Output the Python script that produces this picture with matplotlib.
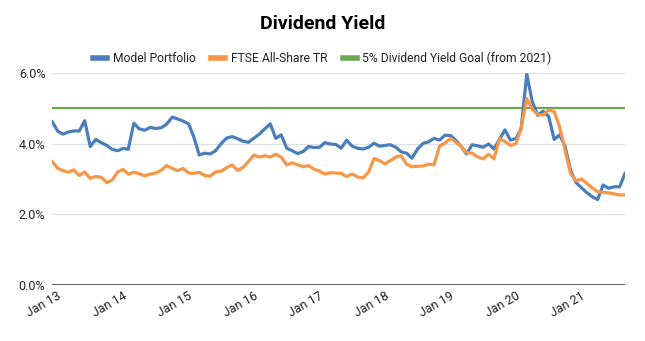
import matplotlib
matplotlib.use("Agg")
import matplotlib.pyplot as plt
import matplotlib.dates as mdates
import matplotlib.transforms as mtransforms
from matplotlib.lines import Line2D
from matplotlib.ticker import FuncFormatter
import numpy as np
import pandas as pd

plt.rcParams['font.family'] = ['Roboto', 'DejaVu Sans']

# monthly dividend yield (%), Jan 2013 - Oct 2021
months = pd.date_range("2013-01-01", periods=106, freq="MS")

model_portfolio = [
    4.62, 4.35, 4.27, 4.33, 4.36, 4.36, 4.65, 3.92, 4.12, 4.03,
    3.95, 3.84, 3.80, 3.87, 3.84, 4.58, 4.42, 4.38, 4.46, 4.43,
    4.45, 4.55, 4.75, 4.70, 4.64, 4.56, 4.20, 3.68, 3.73, 3.71,
    3.80, 4.00, 4.16, 4.20, 4.14, 4.07, 4.04, 4.16, 4.27, 4.42,
    4.56, 4.15, 4.25, 3.87, 3.80, 3.72, 3.78, 3.92, 3.89, 3.90,
    4.03, 3.99, 3.98, 3.87, 4.10, 3.93, 3.87, 3.85, 3.90, 4.01,
    3.93, 3.95, 3.97, 3.90, 3.77, 3.73, 3.59, 3.85, 4.01, 4.05,
    4.15, 4.10, 4.24, 4.23, 4.10, 3.92, 3.71, 3.97, 3.94, 3.90,
    3.99, 3.85, 4.12, 4.39, 4.10, 4.15, 4.43, 5.97, 5.20, 4.80,
    4.92, 4.77, 4.12, 4.25, 3.92, 3.25, 2.90, 2.75, 2.62, 2.50,
    2.42, 2.83, 2.74, 2.78, 2.78, 3.16,
]

ftse_all_share = [
    3.49, 3.30, 3.24, 3.19, 3.26, 3.10, 3.20, 3.02, 3.07, 3.05,
    2.90, 2.97, 3.20, 3.27, 3.14, 3.19, 3.15, 3.09, 3.14, 3.17,
    3.25, 3.38, 3.30, 3.24, 3.30, 3.17, 3.16, 3.19, 3.10, 3.08,
    3.20, 3.22, 3.32, 3.40, 3.24, 3.33, 3.50, 3.68, 3.62, 3.66,
    3.62, 3.70, 3.62, 3.40, 3.46, 3.40, 3.35, 3.38, 3.28, 3.22,
    3.14, 3.18, 3.17, 3.16, 3.07, 3.14, 3.06, 3.03, 3.20, 3.58,
    3.52, 3.43, 3.52, 3.62, 3.66, 3.42, 3.35, 3.36, 3.37, 3.42,
    3.40, 3.93, 4.02, 4.15, 4.05, 3.92, 3.75, 3.73, 3.63, 3.57,
    3.70, 3.57, 4.15, 4.06, 3.95, 4.00, 4.45, 5.28, 4.98, 4.82,
    4.81, 4.95, 4.91, 4.48, 3.82, 3.16, 2.95, 3.00, 2.88, 2.75,
    2.64, 2.62, 2.61, 2.58, 2.55, 2.55,
]

goal_yield = 5.0

labels = ["Model Portfolio", "FTSE All-Share TR", "5% Dividend Yield Goal (from 2021)"]
colors = ["#4a7ebb", "#f79646", "#6aa84f"]

fig = plt.figure(figsize=(6.45, 3.41), dpi=100)
ax = fig.add_axes([0.081, 0.164, 0.888, 0.622])

ax.plot(months, model_portfolio, color=colors[0], lw=2.3, solid_joinstyle="round", zorder=3)
ax.plot(months, ftse_all_share, color=colors[1], lw=2.3, solid_joinstyle="round", zorder=3)
ax.plot(months, np.full(len(months), goal_yield), color=colors[2], lw=1.6, zorder=2)

ax.set_xlim(months[0], months[-1])
ax.set_ylim(0, 6)
ax.set_yticks([0, 2, 4, 6])
ax.yaxis.set_major_formatter(FuncFormatter(lambda v, p: "{:.1f}%".format(v)))
ax.xaxis.set_major_locator(mdates.YearLocator(month=1, day=1))
ax.xaxis.set_major_formatter(mdates.DateFormatter("%b %y"))

ax.grid(axis="y", color="#dde1e8", lw=0.9)
ax.axhline(0, color="#333333", lw=1.1, zorder=4)
for s in ax.spines.values():
    s.set_visible(False)
ax.tick_params(length=0, labelsize=9, colors="#222222")
ax.tick_params(axis="y", pad=5)
ax.tick_params(axis="x", pad=3)
shift = mtransforms.ScaledTranslation(5 / 100, 0, fig.dpi_scale_trans)
for t in ax.get_xticklabels():
    t.set_rotation(30)
    t.set_ha("right")
    t.set_va("top")
    t.set_rotation_mode("anchor")
    t.set_transform(t.get_transform() + shift)

fig.suptitle("Dividend Yield", x=0.5, y=0.955, fontsize=14, fontweight="bold", color="#000000")

handles = [Line2D([0], [0], color=c, lw=4) for c in colors]
fig.legend(handles, labels, loc="center", bbox_to_anchor=(0.5, 0.828), ncol=3,
           frameon=False, fontsize=8.7, handlelength=1.15, handletextpad=0.45,
           columnspacing=1.3, labelcolor="#222222")

fig.savefig("out.png", dpi=100)
